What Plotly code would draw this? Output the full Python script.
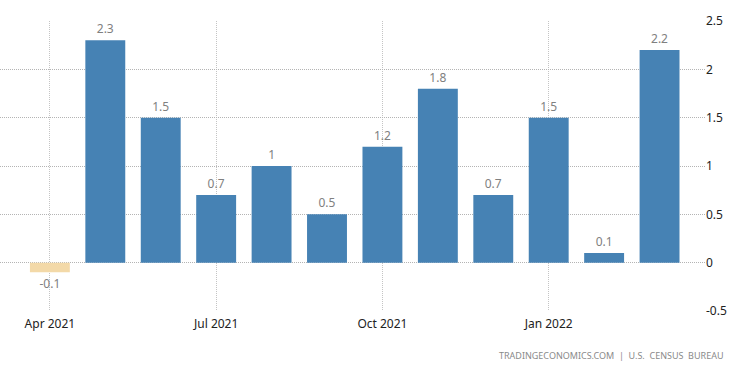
import plotly.graph_objects as go

months = ["Apr 2021", "May 2021", "Jun 2021", "Jul 2021", "Aug 2021", "Sep 2021",
          "Oct 2021", "Nov 2021", "Dec 2021", "Jan 2022", "Feb 2022", "Mar 2022"]
values = [-0.1, 2.3, 1.5, 0.7, 1.0, 0.5, 1.2, 1.8, 0.7, 1.5, 0.1, 2.2]
tick_labels = ["Apr 2021", "Jul 2021", "Oct 2021", "Jan 2022"]
tick_idx = [0, 3, 6, 9]
y_ticks = [-0.5, 0, 0.5, 1, 1.5, 2, 2.5]
y_tick_text = ["-0.5", "0", "0.5", "1", "1.5", "2", "2.5"]

x = list(range(len(months)))
colors = ["#f3d9a8" if v < 0 else "#4682b4" for v in values]
labels = [("%g" % v) for v in values]

fig = go.Figure()
fig.add_trace(go.Bar(
    x=x, y=values, marker=dict(color=colors, line=dict(width=0)),
    text=labels, textposition="outside", cliponaxis=False,
    textfont=dict(family="Noto Sans", size=12, color="#808080"),
    width=0.72, hovertext=months,
))

fig.update_layout(
    width=750, height=373,
    margin=dict(l=0, r=45, t=21, b=62, autoexpand=False),
    paper_bgcolor="white", plot_bgcolor="white",
    showlegend=False,
    font=dict(family="Noto Sans", size=12, color="#222"),
    xaxis=dict(
        range=[-0.9, 11.82], tickvals=tick_idx, ticktext=tick_labels,
        showgrid=True, gridcolor="#c4c4c4", griddash="1px,1px", gridwidth=1,
        zeroline=False, showline=False, ticks="", automargin=False,
        ticklabelstandoff=4,
        tickfont=dict(family="Noto Sans", size=12, color="#222"),
    ),
    yaxis=dict(
        side="right", range=[-0.5, 2.5], tickvals=y_ticks, ticktext=y_tick_text,
        showgrid=True, gridcolor="#b4b4b4", griddash="1px,1px", gridwidth=1,
        zeroline=False, showline=False, ticks="", automargin=False,
        tickfont=dict(family="Noto Sans", size=12, color="#222"),
    ),
    annotations=[dict(
        text="TRADINGECONOMICS.COM  |  U.S.  CENSUS  BUREAU",
        xref="paper", yref="paper", x=1.028, y=-0.155,
        xanchor="right", yanchor="middle", showarrow=False,
        font=dict(family="Noto Sans", size=9, color="#8a8a8a"),
    )],
)

fig.write_html("out.html", config={"displayModeBar": False},
               post_script="document.body.style.margin='0px';")
